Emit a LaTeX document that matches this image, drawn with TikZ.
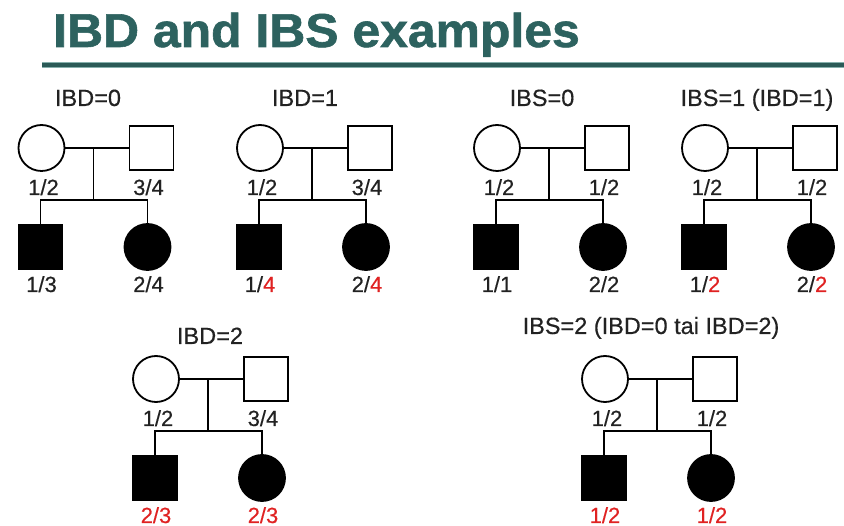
\documentclass[tikz,border=0pt]{standalone}
\usepackage{fontspec}
\setmainfont{Liberation Sans}
\newfontfamily\headfont[FakeBold=1.2]{Liberation Sans Bold}
\newfontfamily\labelfont[FakeBold=0.4]{Liberation Sans}
\usetikzlibrary{calc}

\definecolor{titleteal}{HTML}{2D625F}
\definecolor{ruleteal}{HTML}{2B5A57}
\definecolor{ruleedge}{HTML}{86B0AC}
\definecolor{inkgray}{HTML}{222222}
\definecolor{allelered}{HTML}{E02222}

\newcommand\redal[1]{\textcolor{allelered}{#1}}

\tikzset{
  person/.style={draw=black, line width=1.8pt, inner sep=0pt, fill=white},
  female/.style={person, circle, minimum size=46pt},
  male/.style={person, rectangle, minimum size=44pt},
  affected/.style={fill=black},
  link/.style={line width=1.4pt, black},
  allele/.style={font=\labelfont\fontsize{22}{22}\selectfont, text=inkgray, anchor=base, inner sep=0pt},
  pedtitle/.style={font=\labelfont\fontsize{23.5}{24}\selectfont, text=inkgray, anchor=base, inner sep=0pt},
}

% One nuclear family: #1 name prefix, #2 x of mother, #3 y of parents,
% #4 mother genotype, #5 father genotype, #6 son genotype, #7 daughter genotype
\newcommand\family[7]{%
  \coordinate (#1) at (#2,#3);
  \node[female] (#1mo) at (#1) {};
  \node[male] (#1fa) at ($(#1)+(110,0)$) {};
  \node[male,affected] (#1so) at ($(#1)+(-1,99)$) {};
  \node[female,affected] (#1da) at ($(#1)+(106,99)$) {};
  \coordinate (#1mj) at ($(#1)+(52,0)$);
  \coordinate (#1sj) at ($(#1)+(52,52)$);
  \draw[link] (#1mo) -- (#1fa);
  \draw[link] (#1mj) -- (#1sj);
  \draw[link] (#1so.north) |- (#1sj) -| (#1da.north);
  \node[allele] (#1mol) at ($(#1)+(2,47)$) {#4};
  \node[allele] (#1fal) at ($(#1)+(107,47)$) {#5};
  \node[allele] (#1sol) at ($(#1)+(0,144)$) {#6};
  \node[allele] (#1dal) at ($(#1)+(107,144)$) {#7};
}

\begin{document}
\begin{tikzpicture}[x=1pt, y=-1pt]
  \fill[white] (0,0) rectangle (844,526);
  \useasboundingbox (0,0) rectangle (844,526);

  % heading and rule
  \node[anchor=base west, inner sep=0pt, text=titleteal, xscale=1.05,
        font=\headfont\fontsize{47.5}{50}\selectfont] (head) at (53,47) {IBD and IBS examples};
  \coordinate (ruleL) at (42,65);
  \coordinate (ruleR) at (844,65);
  \draw[ruleedge, line width=6pt] (ruleL) -- (ruleR);
  \draw[ruleteal, line width=3.6pt] (ruleL) -- (ruleR);

  % top row
  \node[pedtitle] (tA) at (88,106) {IBD=0};
  \family{A}{41.5}{148}{1/2}{3/4}{1/3}{2/4}

  \node[pedtitle] (tB) at (305,106) {IBD=1};
  \family{B}{260}{148}{1/2}{3/4}{1/\redal{4}}{2/\redal{4}}

  \node[pedtitle] (tC) at (542,106) {IBS=0};
  \family{C}{497}{148}{1/2}{1/2}{1/1}{2/2}

  \node[pedtitle] (tD) at (757,106) {IBS=1 (IBD=1)};
  \family{D}{705}{148}{1/2}{1/2}{1/\redal{2}}{2/\redal{2}}

  % bottom row
  \node[pedtitle] (tE) at (210,344) {IBD=2};
  \family{E}{156}{379}{1/2}{3/4}{\redal{2/3}}{\redal{2/3}}

  \node[pedtitle] (tF) at (651,334) {IBS=2 (IBD=0 tai IBD=2)};
  \family{F}{605}{379}{1/2}{1/2}{\redal{1/2}}{\redal{1/2}}
\end{tikzpicture}
\end{document}
